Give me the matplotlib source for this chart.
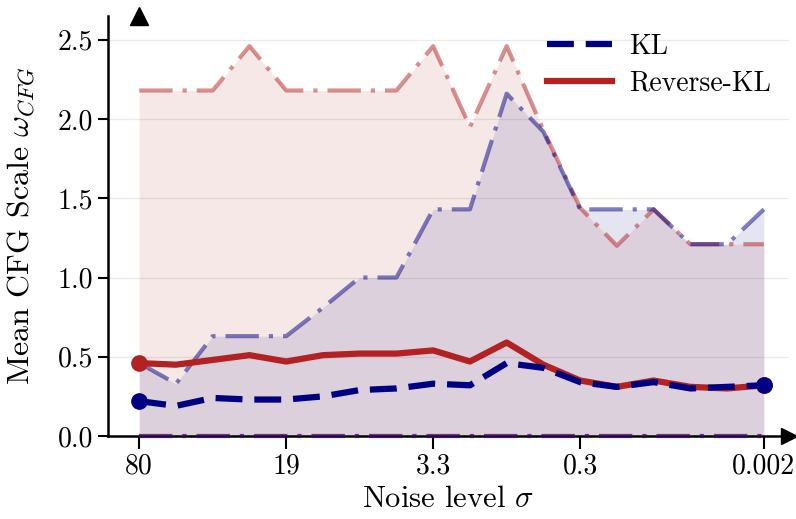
import matplotlib
matplotlib.use("Agg")
import matplotlib.pyplot as plt
from matplotlib.lines import Line2D
import numpy as np

plt.rcParams['font.family'] = 'serif'
plt.rcParams['font.serif'] = ['cmr10', 'DejaVu Serif']
plt.rcParams['mathtext.fontset'] = 'cm'
plt.rcParams['axes.formatter.use_mathtext'] = True

# noise-level steps (18 of them), only some labelled
steps = np.arange(18)
tick_idx = [0, 4, 8, 12, 17]
tick_labels = ['80', '19', '3.3', '0.3', '0.002']

# mean CFG scale per step
kl_mean = [0.22, 0.19, 0.24, 0.23, 0.23, 0.25, 0.29, 0.30, 0.33, 0.32,
           0.46, 0.43, 0.34, 0.31, 0.34, 0.30, 0.31, 0.32]
rkl_mean = [0.46, 0.45, 0.48, 0.51, 0.47, 0.51, 0.52, 0.52, 0.54, 0.47,
            0.59, 0.45, 0.35, 0.31, 0.35, 0.31, 0.30, 0.32]

# spread (min / max) per step
kl_low = [0.0] * 18
kl_high = [0.46, 0.33, 0.63, 0.63, 0.63, 0.81, 1.0, 1.0, 1.43, 1.43,
           2.16, 1.92, 1.43, 1.43, 1.43, 1.21, 1.21, 1.43]
rkl_low = [0.0] * 18
rkl_high = [2.18, 2.18, 2.18, 2.46, 2.18, 2.18, 2.18, 2.18, 2.46, 1.95,
            2.46, 1.93, 1.44, 1.20, 1.43, 1.21, 1.21, 1.21]

kl_color = '#000080'
rkl_color = '#B22222'
dashdot = (8, 2.4, 1, 2.4)
kl_dash = (4.3, 1.9)

fig = plt.figure(figsize=(7.96, 5.19), dpi=100)
ax = fig.add_axes([0.1357, 1 - 436 / 519, 0.991 - 0.1357, (436 - 16) / 519])

# spread bands
ax.fill_between(steps, rkl_low, rkl_high, color=rkl_color, alpha=0.1, lw=0)
ax.fill_between(steps, kl_low, kl_high, color=kl_color, alpha=0.1, lw=0)
for lo, hi, c in [(rkl_low, rkl_high, rkl_color), (kl_low, kl_high, kl_color)]:
    ax.plot(steps, hi, color=c, lw=3, alpha=0.5, dashes=dashdot)
    ax.plot(steps, lo, color=c, lw=3, alpha=0.5, dashes=dashdot,
            clip_on=False, zorder=4)

ax.plot(steps, rkl_mean, color=rkl_color, lw=4.5,
        marker='o', markevery=[0, 17], ms=11)
ax.plot(steps, kl_mean, color=kl_color, lw=4.5, dashes=kl_dash,
        marker='o', markevery=[0, 17], ms=11)

ax.set_xlim(-0.85, 17.68)
ax.set_ylim(0, 2.65)
ax.set_xticks(tick_idx)
ax.set_xticklabels(tick_labels)
ax.set_yticks([0, 0.5, 1.0, 1.5, 2.0, 2.5])
ax.set_yticklabels(['0.0', '0.5', '1.0', '1.5', '2.0', '2.5'])
ax.tick_params(labelsize=20, width=1.5, length=7)
ax.tick_params(axis='x', length=9)
ax.yaxis.grid(True, color='#dddddd', lw=1, alpha=0.6)
ax.set_axisbelow(True)

for s in ['top', 'right']:
    ax.spines[s].set_visible(False)
for s in ['left', 'bottom']:
    ax.spines[s].set_linewidth(1.8)
ax.plot(1, 0, '>k', ms=12, transform=ax.get_yaxis_transform(), clip_on=False)
ax.plot(0, 1, '^k', ms=13, transform=ax.get_xaxis_transform(), clip_on=False)

ax.set_xlabel(r'Noise level $\sigma$', fontsize=22)
ax.set_ylabel(r'Mean CFG Scale $\omega_{CFG}$', fontsize=23)
ax.yaxis.set_label_coords(-0.105, 0.5)

handles = [Line2D([], [], color=kl_color, lw=4.5, dashes=kl_dash),
           Line2D([], [], color=rkl_color, lw=4.5)]
ax.legend(handles, ['KL', 'Reverse-KL'], loc='upper right', frameon=False,
          fontsize=20, handlelength=2.35, handletextpad=0.6,
          labelspacing=0.36, bbox_to_anchor=(1.01, 1.017))

fig.savefig('out.png', dpi=100)
